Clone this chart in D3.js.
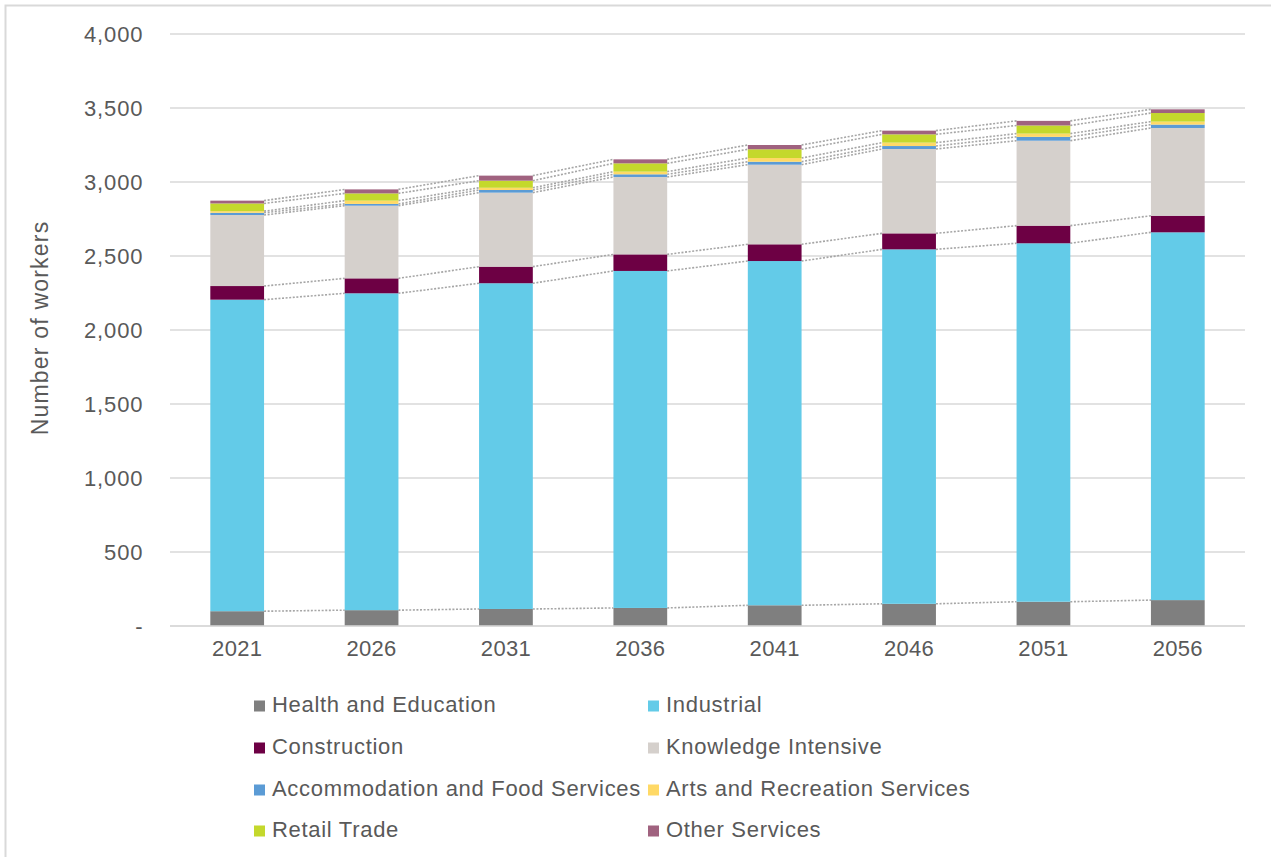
<!DOCTYPE html>
<html>
<head>
<meta charset="utf-8">
<script src="https://cdn.jsdelivr.net/npm/d3@7/dist/d3.min.js"></script>
<style>
  html, body { margin: 0; padding: 0; background: #fff; }
  svg { display: block; font-family: "Liberation Sans", Arial, sans-serif; }
</style>
</head>
<body>
<svg id="chart" width="1271" height="857"></svg>
<script>
// Projected workers by industry group, 2021–2056
const years = ["2021", "2026", "2031", "2036", "2041", "2046", "2051", "2056"];
const seriesNames = [
  "Health and Education", "Industrial", "Construction", "Knowledge Intensive",
  "Accommodation and Food Services", "Arts and Recreation Services",
  "Retail Trade", "Other Services"
];
const healthEducation   = [100, 107, 115, 122, 140, 150, 164, 175];
const industrial        = [2105, 2141, 2201, 2277, 2326, 2395, 2422, 2485];
const construction      = [92, 101, 112, 112, 113, 108, 119, 112];
const knowledgeIntensive= [480, 491, 500, 523, 538, 570, 574, 593];
const accommodationFood = [15, 12, 18, 18, 20, 20, 26, 23];
const artsRecreation    = [11, 22, 15, 18, 25, 23, 22, 20];
const retailTrade       = [52, 49, 48, 56, 59, 56, 55, 58];
const otherServices     = [19, 27, 34, 27, 29, 25, 31, 25];
const yTicks = [0, 500, 1000, 1500, 2000, 2500, 3000, 3500, 4000];

const colors = ["#7f7f7f", "#63cbe8", "#6d0044", "#d5d0cc", "#5b9bd5", "#ffd966", "#c4d82c", "#a0627f"];
const seriesValues = [healthEducation, industrial, construction, knowledgeIntensive,
  accommodationFood, artsRecreation, retailTrade, otherServices];

const table = years.map((yr, i) => {
  const row = { year: yr };
  seriesNames.forEach((n, k) => { row[n] = seriesValues[k][i]; });
  return row;
});

const svg = d3.select("#chart");
const textColor = "#595959";
const gridColor = "#d9d9d9";

// outer frame
svg.append("path")
  .attr("d", "M5.5,870 V5.5 H1290")
  .attr("fill", "none").attr("stroke", "#d9d9d9").attr("stroke-width", 2);

const x = d3.scaleBand().domain(years).range([170, 1245]).paddingInner(0.6).paddingOuter(0.3);
const y = d3.scaleLinear().domain([0, 4000]).range([626, 34]);

// gridlines
svg.append("g").selectAll("line").data(yTicks).join("line")
  .attr("x1", 170).attr("x2", 1245)
  .attr("y1", d => y(d)).attr("y2", d => y(d))
  .attr("stroke", gridColor).attr("stroke-width", 1.5);

// y axis labels
const yAxis = d3.axisLeft(y).tickValues(yTicks)
  .tickFormat(d => d === 0 ? "-" : d3.format(",")(d))
  .tickSize(0).tickPadding(0);
const gy = svg.append("g").attr("transform", "translate(143.5,0)").call(yAxis);
gy.select(".domain").remove();
gy.selectAll("text").attr("fill", textColor).style("font-size", "22px")
  .style("letter-spacing", "0.9px")
  .style("font-family", "'Liberation Sans', Arial, sans-serif");

// x axis labels
const xAxis = d3.axisBottom(x).tickSize(0).tickPadding(0);
const gx = svg.append("g").attr("transform", "translate(0,640)").call(xAxis);
gx.select(".domain").remove();
gx.selectAll("text").attr("fill", textColor).style("font-size", "22px")
  .style("letter-spacing", "0.3px")
  .style("font-family", "'Liberation Sans', Arial, sans-serif");

// axis title
svg.append("text")
  .attr("transform", "translate(48,328) rotate(-90)")
  .attr("text-anchor", "middle")
  .attr("fill", textColor).style("font-size", "23px")
  .style("letter-spacing", "1.2px")
  .text("Number of workers");

const stacked = d3.stack().keys(seriesNames)(table);

// series lines between adjacent bars
const lineG = svg.append("g");
stacked.forEach(layer => {
  for (let i = 0; i < years.length - 1; i++) {
    lineG.append("line")
      .attr("x1", x(years[i]) + x.bandwidth())
      .attr("x2", x(years[i + 1]))
      .attr("y1", y(layer[i][1]))
      .attr("y2", y(layer[i + 1][1]))
      .attr("stroke", "#a6a6a6")
      .attr("stroke-width", 1.6)
      .attr("stroke-dasharray", "2,1.6");
  }
});

// stacked bars
svg.append("g").selectAll("g").data(stacked).join("g")
  .attr("fill", (d, k) => colors[k])
  .selectAll("rect").data(d => d).join("rect")
  .attr("x", d => x(d.data.year))
  .attr("width", x.bandwidth())
  .attr("y", d => y(d[1]))
  .attr("height", d => y(d[0]) - y(d[1]));

// baseline
svg.append("line")
  .attr("x1", 170).attr("x2", 1245).attr("y1", y(0)).attr("y2", y(0))
  .attr("stroke", gridColor).attr("stroke-width", 1.5);

// legend, two columns
const legendCols = [254, 648];
const legendRows = [712, 754, 796, 837];
const legend = svg.append("g").selectAll("g").data(seriesNames).join("g")
  .attr("transform", (d, k) => `translate(${legendCols[k % 2]},${legendRows[Math.floor(k / 2)]})`);
legend.append("rect")
  .attr("x", 0).attr("y", -11.5).attr("width", 11).attr("height", 11)
  .attr("fill", (d, k) => colors[k]);
legend.append("text")
  .attr("x", 18).attr("y", 0)
  .attr("fill", textColor).style("font-size", "22px")
  .style("letter-spacing", "0.7px")
  .text(d => d);
</script>
</body>
</html>
